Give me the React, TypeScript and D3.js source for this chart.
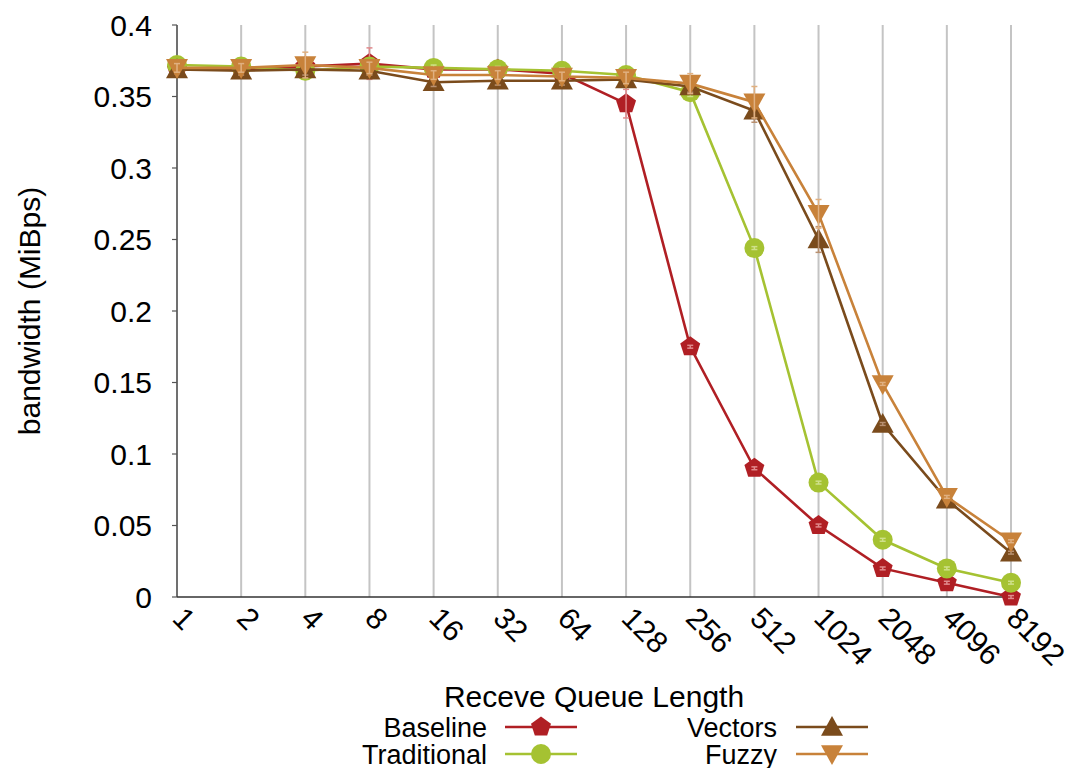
import React from "react";
import * as d3 from "d3";

const categories = ["1", "2", "4", "8", "16", "32", "64", "128", "256", "512", "1024", "2048", "4096", "8192"];
const yTicks = [0, 0.05, 0.1, 0.15, 0.2, 0.25, 0.3, 0.35, 0.4];
const yTickLabels = ["0", "0.05", "0.1", "0.15", "0.2", "0.25", "0.3", "0.35", "0.4"];

const baseline = [0.369, 0.369, 0.371, 0.373, 0.369, 0.369, 0.366, 0.345, 0.175, 0.09, 0.05, 0.02, 0.01, 0.0];
const baselineErr = [0.003, 0.002, 0.004, 0.011, 0.002, 0.002, 0.002, 0.01, 0.001, 0.001, 0.001, 0.001, 0.001, 0.001];
const traditional = [0.372, 0.371, 0.368, 0.371, 0.37, 0.369, 0.368, 0.365, 0.353, 0.244, 0.08, 0.04, 0.02, 0.01];
const traditionalErr = [0.003, 0.002, 0.002, 0.003, 0.002, 0.002, 0.002, 0.002, 0.003, 0.001, 0.001, 0.001, 0.001, 0.001];
const vectors = [0.369, 0.368, 0.369, 0.368, 0.36, 0.361, 0.361, 0.362, 0.357, 0.34, 0.25, 0.121, 0.068, 0.031];
const vectorsErr = [0.003, 0.003, 0.004, 0.003, 0.003, 0.003, 0.003, 0.003, 0.004, 0.008, 0.009, 0.001, 0.001, 0.001];
const fuzzy = [0.37, 0.37, 0.372, 0.37, 0.365, 0.365, 0.364, 0.363, 0.359, 0.346, 0.268, 0.149, 0.07, 0.039];
const fuzzyErr = [0.003, 0.003, 0.009, 0.004, 0.003, 0.003, 0.003, 0.004, 0.007, 0.011, 0.01, 0.001, 0.001, 0.001];

const seriesNames = ["Baseline", "Traditional", "Vectors", "Fuzzy"];
const seriesColors = ["#b01f24", "#a5c232", "#7a4b1c", "#c8823a"];
const errColors = ["#e08a8c", "#cfe08a", "#b89070", "#e0b080"];
const seriesMarkers = ["pentagon", "circle", "up", "down"];

const FONT = "'Liberation Sans', Arial, sans-serif";

function Marker({ kind, x, y, color }: { kind: string; x: number; y: number; color: string }) {
  if (kind === "circle") return <circle cx={x} cy={y} r={10} fill={color} />;
  if (kind === "pentagon") {
    const r = 10.5;
    const pts = d3.range(5).map((i) => {
      const a = -Math.PI / 2 + (i * 2 * Math.PI) / 5;
      return [x + r * Math.cos(a), y + r * Math.sin(a)].join(",");
    });
    return <polygon points={pts.join(" ")} fill={color} />;
  }
  const s = 11;
  if (kind === "up") {
    return <polygon points={`${x},${y - s} ${x + s},${y + s * 0.8} ${x - s},${y + s * 0.8}`} fill={color} />;
  }
  return <polygon points={`${x},${y + s} ${x + s},${y - s * 0.8} ${x - s},${y - s * 0.8}`} fill={color} />;
}

export default function App() {
  const W = 1066, H = 768;
  const left = 177, right = 1011, top = 25, bottom = 597;
  const x = d3.scalePoint<string>().domain(categories).range([left, right]);
  const y = d3.scaleLinear().domain([0, 0.4]).range([bottom, top]);
  const data = [baseline, traditional, vectors, fuzzy];
  const errs = [baselineErr, traditionalErr, vectorsErr, fuzzyErr];
  const line = d3
    .line<number>()
    .x((_, i) => x(categories[i]) as number)
    .y((d) => y(d));

  const legend = [
    { name: seriesNames[0], i: 0, tx: 487, ty: 727, lx: 505 },
    { name: seriesNames[1], i: 1, tx: 487, ty: 754, lx: 505 },
    { name: seriesNames[2], i: 2, tx: 777, ty: 727, lx: 796 },
    { name: seriesNames[3], i: 3, tx: 777, ty: 754, lx: 796 },
  ];

  return (
    <svg width={W} height={H} style={{ position: "absolute", left: 0, top: 0, background: "#fff" }} fontFamily={FONT}>
      <rect width={W} height={H} fill="#fff" />
      {categories.map((c) => (
        <line key={c} x1={x(c)} x2={x(c)} y1={top} y2={bottom} stroke="#c4c4c4" strokeWidth={2} />
      ))}
      <line x1={left} x2={left} y1={top} y2={bottom} stroke="#555" strokeWidth={1.5} />
      <line x1={left} x2={right + 1} y1={bottom} y2={bottom} stroke="#333" strokeWidth={1.5} />
      {yTicks.map((t, i) => (
        <g key={t}>
          <line x1={left - 5} x2={left} y1={y(t)} y2={y(t)} stroke="#555" strokeWidth={1.2} />
          <text x={152} y={y(t) + 10.5} fontSize={30} textAnchor="end" fill="#000">
            {yTickLabels[i]}
          </text>
        </g>
      ))}
      {categories.map((c) => (
        <text
          key={c}
          transform={`translate(${(x(c) as number) - 6},${620}) rotate(45)`}
          fontSize={30}
          textAnchor="start"
          fill="#000"
        >
          {c}
        </text>
      ))}
      <text x={594} y={707} fontSize={30} textAnchor="middle" fill="#000">
        Receve Queue Length
      </text>
      <text transform={`translate(40,311) rotate(-90)`} fontSize={30} textAnchor="middle" fill="#000">
        bandwidth (MiBps)
      </text>
      {data.map((vals, si) => (
        <g key={si}>
          <path d={line(vals) || ""} fill="none" stroke={seriesColors[si]} strokeWidth={2.6} />
          {vals.map((v, i) => {
            const cx = x(categories[i]) as number;
            const e = errs[si][i];
            return (
              <g key={i}>
                <Marker kind={seriesMarkers[si]} x={cx} y={y(v)} color={seriesColors[si]} />
                <line x1={cx} x2={cx} y1={y(v + e)} y2={y(v - e)} stroke={errColors[si]} strokeWidth={1.5} />
                <line x1={cx - 3} x2={cx + 3} y1={y(v + e)} y2={y(v + e)} stroke={errColors[si]} strokeWidth={1.5} />
                <line x1={cx - 3} x2={cx + 3} y1={y(v - e)} y2={y(v - e)} stroke={errColors[si]} strokeWidth={1.5} />
              </g>
            );
          })}
        </g>
      ))}
      {legend.map((l) => (
        <g key={l.name}>
          <text x={l.tx} y={l.ty + 10} fontSize={27} textAnchor="end" fill="#000">
            {l.name}
          </text>
          <line x1={l.lx} x2={l.lx + 72} y1={l.ty} y2={l.ty} stroke={seriesColors[l.i]} strokeWidth={2.6} />
          <Marker kind={seriesMarkers[l.i]} x={l.lx + 36} y={l.ty} color={seriesColors[l.i]} />
        </g>
      ))}
    </svg>
  );
}
